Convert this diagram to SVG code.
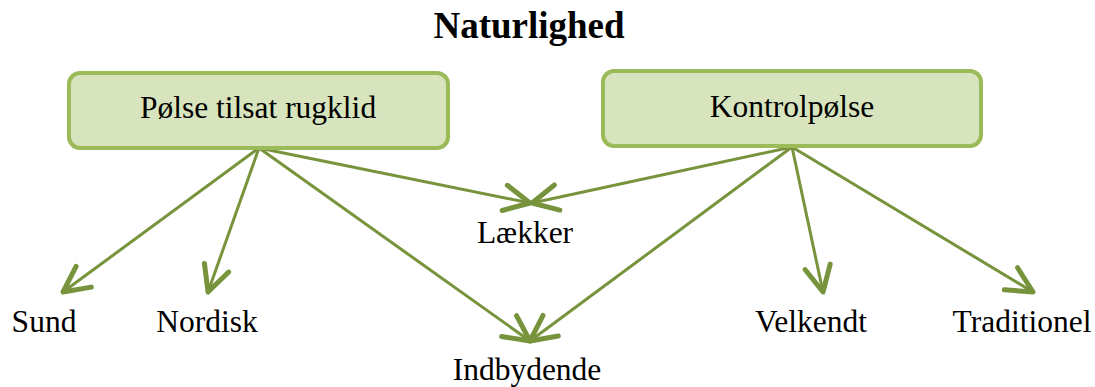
<svg xmlns="http://www.w3.org/2000/svg" width="1095" height="387" viewBox="0 0 1095 387">
  <style>
    .box { fill: #d7e4bd; stroke: #9bbb59; stroke-width: 4; }
    .lbl { font-family: "Liberation Serif", "Times New Roman", serif; font-size: 31.5px; fill: #000; }
    .title { font-family: "Liberation Serif", "Times New Roman", serif; font-size: 37px; font-weight: bold; fill: #000; }
    .conn { stroke: #77933c; stroke-width: 3; fill: none; marker-end: url(#arr); }
  </style>
  <defs>
    <marker id="arr" markerUnits="userSpaceOnUse" markerWidth="40" markerHeight="40" refX="0" refY="0" viewBox="-22 -14 26 28" orient="auto">
      <path d="M-18,-9 L0,0 L-18,9" fill="none" stroke="#77933c" stroke-width="3.5" stroke-linecap="round" stroke-linejoin="round"/>
    </marker>
  </defs>
  <rect width="1095" height="387" fill="#ffffff"/>
  <text class="title" x="529" y="38" text-anchor="middle">Naturlighed</text>
  <g id="connectors">
    <line class="conn" x1="259" y1="148" x2="63" y2="292"/>
    <line class="conn" x1="259" y1="148" x2="208" y2="292"/>
    <line class="conn" x1="259" y1="148" x2="530" y2="203"/>
    <line class="conn" x1="259" y1="148" x2="530" y2="341"/>
    <line class="conn" x1="792" y1="147" x2="532" y2="203"/>
    <line class="conn" x1="792" y1="147" x2="530" y2="341"/>
    <line class="conn" x1="792" y1="147" x2="823" y2="292"/>
    <line class="conn" x1="792" y1="147" x2="1033" y2="292"/>
  </g>
  <g id="node-polse">
    <rect class="box" x="69" y="73" width="379" height="75" rx="11" ry="11"/>
    <text class="lbl" x="258" y="118" text-anchor="middle">Pølse tilsat rugklid</text>
  </g>
  <g id="node-kontrol">
    <rect class="box" x="603" y="71" width="378" height="75" rx="11" ry="11"/>
    <text class="lbl" x="792" y="117" text-anchor="middle">Kontrolpølse</text>
  </g>
  <g id="node-laekker"><text class="lbl" x="525" y="243" text-anchor="middle">Lækker</text></g>
  <g id="node-sund"><text class="lbl" x="44" y="332" text-anchor="middle">Sund</text></g>
  <g id="node-nordisk"><text class="lbl" x="207" y="332" text-anchor="middle">Nordisk</text></g>
  <g id="node-indbydende"><text class="lbl" x="527" y="380" text-anchor="middle">Indbydende</text></g>
  <g id="node-velkendt"><text class="lbl" x="811" y="332" text-anchor="middle">Velkendt</text></g>
  <g id="node-traditionel"><text class="lbl" x="1022" y="332" text-anchor="middle">Traditionel</text></g>
</svg>
